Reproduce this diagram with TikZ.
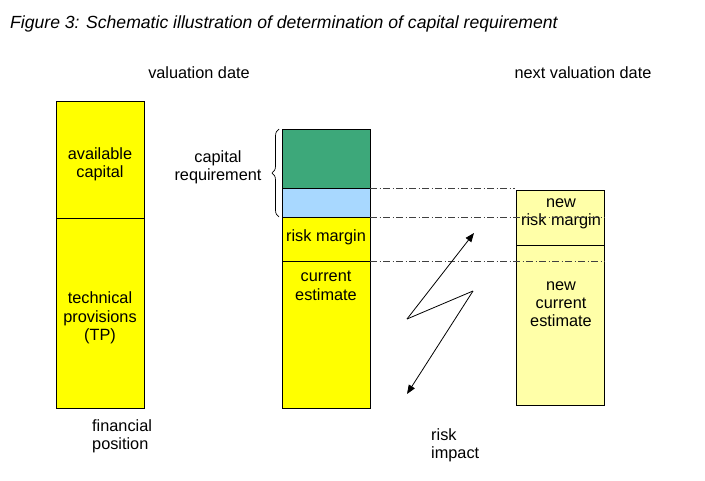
\documentclass[tikz,border=0pt]{standalone}
\usepackage{fontspec}
\setmainfont{Liberation Sans}
\usetikzlibrary{decorations.pathreplacing,arrows.meta}
\definecolor{ylw}{HTML}{FFFF00}
\definecolor{lylw}{HTML}{FFFFA8}
\definecolor{grn}{HTML}{3DA87A}
\definecolor{lblue}{HTML}{A8D8FF}
\tikzset{
  blk/.style={draw=black, line width=0.8pt, minimum width=88pt, inner sep=0pt, outer sep=0pt},
  lbl/.style={align=center, font=\fontsize{16.3}{18.3}\selectfont, inner sep=0pt},
  lbll/.style={align=left, font=\fontsize{16.3}{18.3}\selectfont, inner sep=0pt},
  guide/.style={draw=black!75, line width=0.6pt, dash pattern=on 7pt off 2.5pt on 1pt off 2.5pt},
  arr/.style={-{Triangle[length=9pt,width=7pt]}, line width=0.8pt}
}
\begin{document}
\begin{tikzpicture}[x=1pt,y=-1pt]
\useasboundingbox (0,0) rectangle (705,480);
% title
\node[anchor=base west, font=\fontsize{17.6}{20}\selectfont\itshape, inner sep=0pt] (title) at (10,28) {Figure 3: Schematic illustration of determination of capital requirement};
\node[lbl] (vd) at (199,73) {valuation date};
\node[lbl] (nvd) at (583,73) {next valuation date};
% left column
\node[blk, fill=ylw, anchor=north west, minimum height=117pt] (avail) at (56,101) {};
\node[blk, fill=ylw, anchor=north west, minimum height=190pt] (tp) at (56,218) {};
\node[lbl] (availt) at (100,164) {available\\capital};
\node[lbl] (tpt) at (100,318) {technical\\provisions\\(TP)};
\node[lbll, anchor=north west] (fp) at (92,419) {financial\\position};
% middle column
\node[blk, fill=grn, anchor=north west, minimum height=59pt] (green) at (282,129) {};
\node[blk, fill=lblue, anchor=north west, minimum height=29pt] (blue) at (282,188) {};
\node[blk, fill=ylw, anchor=north west, minimum height=44pt] (rm) at (282,217) {};
\node[blk, fill=ylw, anchor=north west, minimum height=147pt] (ce) at (282,261) {};
\node[lbl] (rmt) at (326,237) {risk margin};
\node[lbl, anchor=north] (cet) at (326,271) {current\\estimate};
% brace
\draw[decorate, decoration={brace, amplitude=7pt}, line width=0.7pt] (279,217) -- (279,129);
\node[lbl] (cr) at (218,167) {capital\\requirement};
% right column
\node[blk, fill=lylw, anchor=north west, minimum height=55pt] (nrm) at (516,190) {};
\node[blk, fill=lylw, anchor=north west, minimum height=160pt] (nce) at (516,245) {};
\node[lbl] (nrmt) at (561,214) {new\\risk margin};
\node[lbl] (ncet) at (561,304) {new\\current\\estimate};
% guide lines
\coordinate (g1) at (515,188);
\coordinate (g2) at (605,217);
\coordinate (g3) at (605,261);
\draw[guide] (green.south east) -- (g1);
\draw[guide] (blue.south east) -- (g2);
\draw[guide] (rm.south east) -- (g3);
% risk impact zigzag
\coordinate (z0) at (407,319);
\coordinate (z1) at (473,291);
\coordinate (ztop) at (474,233);
\coordinate (zbot) at (407,394);
\draw[arr] (z0) -- (ztop);
\draw[line width=0.8pt] (z0) -- (z1);
\draw[arr] (z1) -- (zbot);
\node[lbll, anchor=north west] (ri) at (431,428) {risk\\impact};
\end{tikzpicture}
\end{document}
